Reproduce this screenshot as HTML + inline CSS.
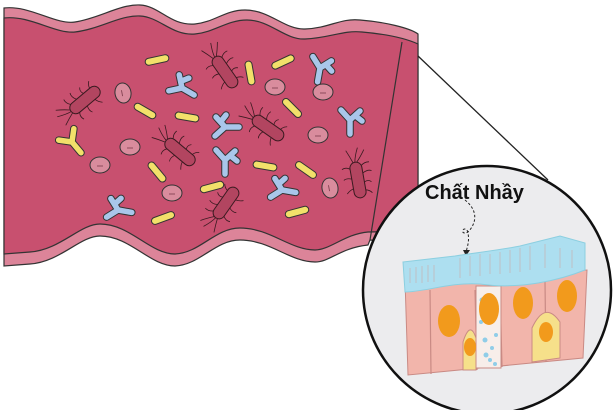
<!DOCTYPE html>
<html><head><meta charset="utf-8"><style>
html,body{margin:0;padding:0;background:#fff;width:615px;height:410px;overflow:hidden}
svg{display:block}
</style></head><body>
<svg width="615" height="410" viewBox="0 0 615 410" xmlns="http://www.w3.org/2000/svg">
<defs>
<g id="rod"><rect x="-12" y="-3.5" width="24" height="7" rx="3.5" fill="#f2e06a" stroke="#333" stroke-width="1"/></g>
<g id="yb"><path d="M0,14 L0,0 M0,0 L-9,-10 M0,0 L10,-9 M5,-4.5 L12,1" stroke="#333" stroke-width="7.5" stroke-linecap="round" fill="none"/><path d="M0,14 L0,0 M0,0 L-9,-10 M0,0 L10,-9 M5,-4.5 L12,1" stroke="#a9c6ea" stroke-width="5.5" stroke-linecap="round" fill="none"/></g>
<g id="yy"><path d="M0,14 L0,0 M0,0 L-9,-10 M0,0 L10,-9" stroke="#333" stroke-width="7.5" stroke-linecap="round" fill="none"/><path d="M0,14 L0,0 M0,0 L-9,-10 M0,0 L10,-9" stroke="#f2e06a" stroke-width="5.5" stroke-linecap="round" fill="none"/></g>
<g id="ov"><ellipse cx="0" cy="0" rx="10" ry="8" fill="#d98c9d" stroke="#333" stroke-width="1"/><path d="M-3,1 L3,1" stroke="#7a3a4a" stroke-width="0.8"/></g>
<g id="bac"><rect x="-18" y="-6" width="36" height="12" rx="6" fill="#b24560" stroke="#3a1a20" stroke-width="1"/>
<path d="M-14,-6 Q-17,-10 -16,-14 M-6,-6 Q-9,-11 -7,-15 M3,-6 Q1,-10 4,-13 M11,-6 Q12,-10 15,-12 M-12,6 Q-15,10 -13,14 M-2,6 Q-4,11 -2,14 M8,6 Q9,10 12,13 M-18,0 Q-24,-1 -32,-5 M-18,2 Q-24,4 -31,7 M-18,-2 Q-22,-6 -29,-11" stroke="#3a1a20" stroke-width="0.8" fill="none"/></g>
</defs>
<path d="M4,8 C30,5 55,25 75,22 C100,18 120,4 140,5 C160,6 170,26 195,24 C215,22 225,10 245,10 C270,10 285,30 305,29 C330,28 340,18 360,20 C385,22 410,28 418,34 L418,236 C400,240 385,242 370,240 L368,245 C340,248 330,262 315,262 C290,262 270,240 240,240 C215,240 200,265 175,266 C150,266 130,236 100,236 C80,236 60,262 30,264 L4,266 Z" fill="#dc8499" stroke="#333" stroke-width="1.2"/>
<path d="M4,18 C30,15 55,34 75,32 C100,29 120,15 140,16 C160,17 172,36 195,34 C215,32 227,20 247,20 C270,20 285,40 305,39 C330,38 343,30 362,32 C385,34 405,38 418,44 L418,226 C400,230 385,232 368,232 C345,234 330,250 315,250 C290,250 270,228 240,228 C215,228 200,253 175,254 C150,254 130,224 100,224 C80,224 60,250 30,252 L4,254 Z" fill="#c8506f" stroke="#333" stroke-width="1.2"/>
<path d="M402,42 L370,240" stroke="#333" stroke-width="1.2"/>
<path d="M418,56 L548,180" stroke="#222" stroke-width="1.3"/>
<g>
<use href="#bac" transform="translate(85,100) rotate(-40)"/>
<use href="#bac" transform="translate(225,72) rotate(55)"/>
<use href="#bac" transform="translate(268,128) rotate(35)"/>
<use href="#bac" transform="translate(180,152) rotate(40)"/>
<use href="#bac" transform="translate(226,203) rotate(-55)"/>
<use href="#bac" transform="translate(358,180) rotate(80)"/>
<use href="#rod" transform="translate(157,60) rotate(-12)"/>
<use href="#rod" transform="translate(250,73) rotate(80)"/>
<use href="#rod" transform="translate(283,62) rotate(-25)"/>
<use href="#rod" transform="translate(145,111) rotate(30)"/>
<use href="#rod" transform="translate(187,117) rotate(10)"/>
<use href="#rod" transform="translate(292,108) rotate(45)"/>
<use href="#rod" transform="translate(157,172) rotate(50)"/>
<use href="#rod" transform="translate(212,187) rotate(-15)"/>
<use href="#rod" transform="translate(265,166) rotate(10)"/>
<use href="#rod" transform="translate(306,170) rotate(35)"/>
<use href="#rod" transform="translate(163,218) rotate(-20)"/>
<use href="#rod" transform="translate(297,212) rotate(-15)"/>
<use href="#yb" transform="translate(182,88) rotate(-60)"/>
<use href="#yb" transform="translate(225,127) rotate(-90)"/>
<use href="#yb" transform="translate(225,160) rotate(0)"/>
<use href="#yb" transform="translate(320,68) rotate(10)"/>
<use href="#yb" transform="translate(350,120) rotate(0)"/>
<use href="#yb" transform="translate(118,210) rotate(-80)"/>
<use href="#yb" transform="translate(282,190) rotate(-80)"/>
<use href="#yy" transform="translate(72,142) rotate(-40)"/>
<use href="#ov" transform="translate(123,93) rotate(80)"/>
<use href="#ov" transform="translate(130,147)"/>
<use href="#ov" transform="translate(100,165)"/>
<use href="#ov" transform="translate(172,193)"/>
<use href="#ov" transform="translate(275,87)"/>
<use href="#ov" transform="translate(323,92)"/>
<use href="#ov" transform="translate(318,135)"/>
<use href="#ov" transform="translate(330,188) rotate(80)"/>
</g>
<circle cx="487" cy="290" r="124" fill="#ececee" stroke="#111" stroke-width="2.5"/>
<text x="425" y="199" font-family="Liberation Sans, sans-serif" font-weight="bold" font-size="20" fill="#111">Chất Nhầy</text>
<path d="M465,200 C480,212 475,225 468,232 C460,236 462,226 467,230 C470,238 468,245 466,252" stroke="#222" stroke-width="1" stroke-dasharray="2.5,2" fill="none"/>
<path d="M463,250 L470,250 L466,256 Z" fill="#222"/>
<path d="M405,280 L408,375 L583,358 L587,270 Z" fill="#f2b5ab" stroke="#c98a84" stroke-width="1"/>
<path d="M430,290 L431,374 M475,290 L477,370 M500,288 L502,367 M545,282 L546,362" stroke="#c98a84" stroke-width="1.2"/>
<rect x="476" y="286" width="25" height="82" fill="#f7eeea" stroke="#c98a84"/>
<g fill="#8fcde8"><circle cx="482" cy="300" r="2.5"/><circle cx="495" cy="305" r="2"/><circle cx="485" cy="340" r="2.5"/><circle cx="492" cy="348" r="2"/><circle cx="486" cy="355" r="2.5"/><circle cx="496" cy="335" r="2"/><circle cx="481" cy="322" r="2"/><circle cx="490" cy="360" r="2"/><circle cx="495" cy="364" r="2"/></g>
<path d="M463,370 L463,342 Q470,320 476,338 L476,370 Z" fill="#f6e08a" stroke="#c98a84"/>
<path d="M532,362 L532,328 Q545,300 560,322 L560,358 Z" fill="#f6e08a" stroke="#c98a84"/>
<ellipse cx="449" cy="321" rx="11" ry="16" fill="#f29a1c"/>
<ellipse cx="489" cy="309" rx="10" ry="16" fill="#f29a1c"/>
<ellipse cx="523" cy="303" rx="10" ry="16" fill="#f29a1c"/>
<ellipse cx="567" cy="296" rx="10" ry="16" fill="#f29a1c"/>
<ellipse cx="470" cy="347" rx="6" ry="9" fill="#f29a1c"/>
<ellipse cx="546" cy="332" rx="7" ry="10" fill="#f29a1c"/>
<path d="M403,262 L455,256 C480,252 500,250 520,246 L560,236 L585,243 L585,270 C560,280 520,290 480,284 C450,282 425,292 405,292 Z" fill="#addff0" stroke="#8ccfe0"/>
<path d="M410,268 L410,283 M416,267 L416,283 M422,266 L422,283 M428,265 L428,282 M434,265 L434,282 M460,258 L460,278 M470,256 L470,276 M480,254 L480,276 M490,254 L490,274 M500,252 L500,274 M510,250 L510,273 M520,248 L520,272 M530,246 L530,270 M545,244 L545,268 M560,248 L560,268 M572,250 L572,268" stroke="#b9c8d0" stroke-width="1.4"/>
</svg>
</body></html>
